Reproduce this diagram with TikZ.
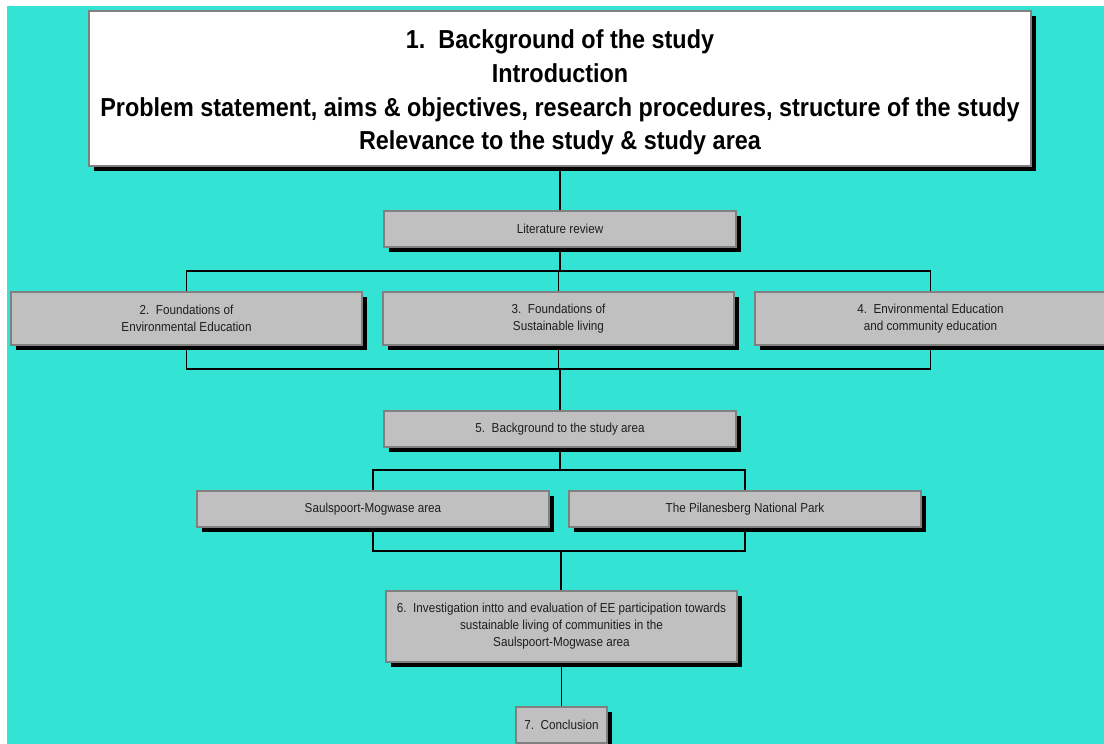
\documentclass[tikz,border=0pt]{standalone}
\usepackage{fontspec}
\setmainfont{Liberation Sans}[FakeStretch=0.9]
\usetikzlibrary{shadows,backgrounds}
\definecolor{sea}{RGB}{51,227,211}
\definecolor{boxfill}{RGB}{192,192,192}
\definecolor{boxedge}{RGB}{128,128,128}
\definecolor{ink}{RGB}{30,30,30}
\begin{document}
\begin{tikzpicture}[x=1pt,y=-1pt,
  card/.style={draw=boxedge, line width=2.5pt, fill=boxfill, inner sep=0pt,
    align=center, text=ink, font=\fontsize{13}{17}\selectfont,
    drop shadow={shadow xshift=5pt, shadow yshift=-5pt, fill=black, opacity=1}},
  headcard/.style={card, fill=white, text=black,
    font=\fontsize{26}{33.7}\selectfont\bfseries},
  link/.style={line width=1.3pt, draw=black}]
  \useasboundingbox (0,0) rectangle (1104,744);
  \begin{scope}[on background layer]
    \fill[white] (0,0) rectangle (1104,744);
    \fill[sea] (7,6) rectangle (1104,744);
  \end{scope}

  % boxes
  \node[headcard, minimum width=942pt, minimum height=155pt] (intro) at (560,88.5)
    {\rule{0pt}{27pt}1.\ \ Background of the study\\Introduction\\Problem statement, aims \& objectives, research procedures, structure of the study\\Relevance to the study \& study area};
  \node[card, minimum width=352pt, minimum height=36pt] (lit) at (560,229) {Literature review};
  \node[card, minimum width=351pt, minimum height=53pt] (ee) at (186.5,318.5)
    {2.\ \ Foundations of\\Environmental Education};
  \node[card, minimum width=351pt, minimum height=53pt] (sl) at (558.5,318.5)
    {3.\ \ Foundations of\\Sustainable living};
  \node[card, minimum width=351pt, minimum height=53pt] (ce) at (930.5,318.5)
    {4.\ \ Environmental Education\\and community education};
  \node[card, minimum width=352pt, minimum height=36pt] (area) at (560,429)
    {5.\ \ Background to the study area};
  \node[card, minimum width=352pt, minimum height=36pt] (sm) at (373,509)
    {Saulspoort-Mogwase area};
  \node[card, minimum width=352pt, minimum height=36pt] (pnp) at (745,509)
    {The Pilanesberg National Park};
  \node[card, minimum width=351pt, minimum height=71pt] (inv) at (561.5,626.5)
    {6.\ \ Investigation intto and evaluation of EE participation towards\\sustainable living of communities in the\\Saulspoort-Mogwase area};
  \node[card, minimum width=91pt, minimum height=36pt] (concl) at (561.5,725)
    {7.\ \ Conclusion};

  % junction points of the connector buses
  \coordinate (busA) at (560,271);
  \coordinate (busB) at (560,369);
  \coordinate (busC) at (560,470);
  \coordinate (busD) at (561,551);

  \begin{scope}[on background layer]
    \draw[link] (intro.south) -- (lit.north);
    \draw[link] (lit.south) -- (busA);
    \draw[link] (ee.north) |- (busA) -| (ce.north);
    \draw[link] (sl.north) -- (sl.north |- busA);
    \draw[link] (ee.south) |- (busB) -| (ce.south);
    \draw[link] (sl.south) -- (sl.south |- busB);
    \draw[link] (busB) -- (busB |- area.north);
    \draw[link] (area.south) -- (busC);
    \draw[link] (sm.north) |- (busC) -| (pnp.north);
    \draw[link] (sm.south) |- (busD) -| (pnp.south);
    \draw[link] (busD) -- (busD |- inv.north);
    \draw[link] (inv.south) -- (concl.north);
  \end{scope}
\end{tikzpicture}
\end{document}
